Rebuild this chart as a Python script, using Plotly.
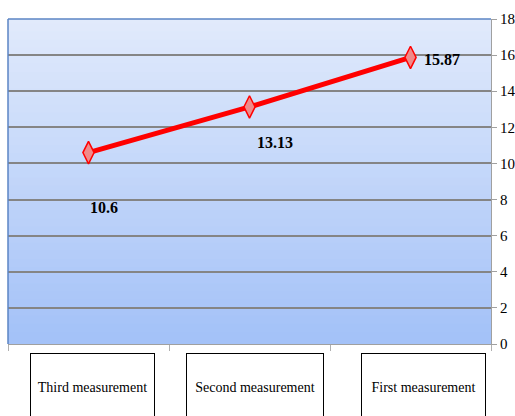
import plotly.graph_objects as go

categories = ["Third measurement", "Second measurement", "First measurement"]
values = [10.6, 13.13, 15.87]
value_labels = ["10.6", "13.13", "15.87"]
y_ticks = [0, 2, 4, 6, 8, 10, 12, 14, 16, 18]

SERIF = "Liberation Serif, Times New Roman, serif"

fig = go.Figure()
fig.add_trace(go.Scatter(
    x=categories, y=values, mode="lines+markers",
    line=dict(color="#ff0000", width=5),
    marker=dict(symbol="diamond-tall", size=16, color="#f08a8a",
                line=dict(color="#ff0000", width=1.5)),
    showlegend=False, cliponaxis=False,
))

# gradient background
top = (226, 235, 251)
bot = (163, 193, 248)
n = 40
shapes = []
for i in range(n):
    t = (i + 0.5) / n
    c = tuple(round(top[k] + (bot[k] - top[k]) * t) for k in range(3))
    y1 = 1 - i / n + (0.0 if i == 0 else 0.012)
    shapes.append(dict(type="rect", xref="x domain", yref="y domain",
                       x0=0, x1=1, y0=1 - (i + 1) / n, y1=y1,
                       fillcolor="rgb(%d,%d,%d)" % c, line=dict(width=0),
                       layer="below"))
# plot border left/top
shapes.append(dict(type="line", xref="x domain", yref="y domain", x0=0, x1=0, y0=0, y1=1,
                   line=dict(color="#5b84c4", width=1.5)))
shapes.append(dict(type="line", xref="x domain", yref="y domain", x0=0, x1=1, y0=1, y1=1,
                   line=dict(color="#5b84c4", width=1.5)))

annotations = []
label_shifts = [(15, -55), (25, -36), (31, -2)]
for cat, v, lab, (dx, dy) in zip(categories, values, value_labels, label_shifts):
    annotations.append(dict(x=cat, y=v, xref="x", yref="y", text="<b>" + lab + "</b>",
                            showarrow=False, xshift=dx, yshift=dy,
                            font=dict(family=SERIF, size=16, color="#000000")))

box_shifts = [4, 5, 13]
box_widths = [119, 132, 119]
for cat, dx, w in zip(categories, box_shifts, box_widths):
    annotations.append(dict(x=cat, y=0, xref="x", yref="paper", yanchor="top",
                            text=cat, showarrow=False, xshift=dx, yshift=-9,
                            width=w, height=62, valign="middle", borderpad=2,
                            bordercolor="#000000", borderwidth=1, bgcolor="#ffffff",
                            font=dict(family=SERIF, size=14, color="#000000")))

fig.update_layout(
    width=515, height=416,
    margin=dict(l=8, r=24, t=19, b=72, autoexpand=False),
    paper_bgcolor="#ffffff", plot_bgcolor="rgba(0,0,0,0)",
    shapes=shapes, annotations=annotations,
    xaxis=dict(type="category", showticklabels=False, showgrid=False,
               tickson="boundaries", ticks="outside", ticklen=6, tickcolor="#b0b0b0",
               showline=True, linecolor="#a0a0a0", linewidth=1, zeroline=False,
               range=[-0.5, 2.5], automargin=False),
    yaxis=dict(side="right", range=[0, 18], tickvals=y_ticks,
               showgrid=True, gridcolor="#858585", gridwidth=1.5,
               ticks="outside", ticklen=5, tickcolor="#a0a0a0",
               showline=True, linecolor="#a0a0a0", linewidth=1, zeroline=False,
               automargin=False,
               tickfont=dict(family=SERIF, size=15, color="#000000")),
)

fig.write_html("out.html")
